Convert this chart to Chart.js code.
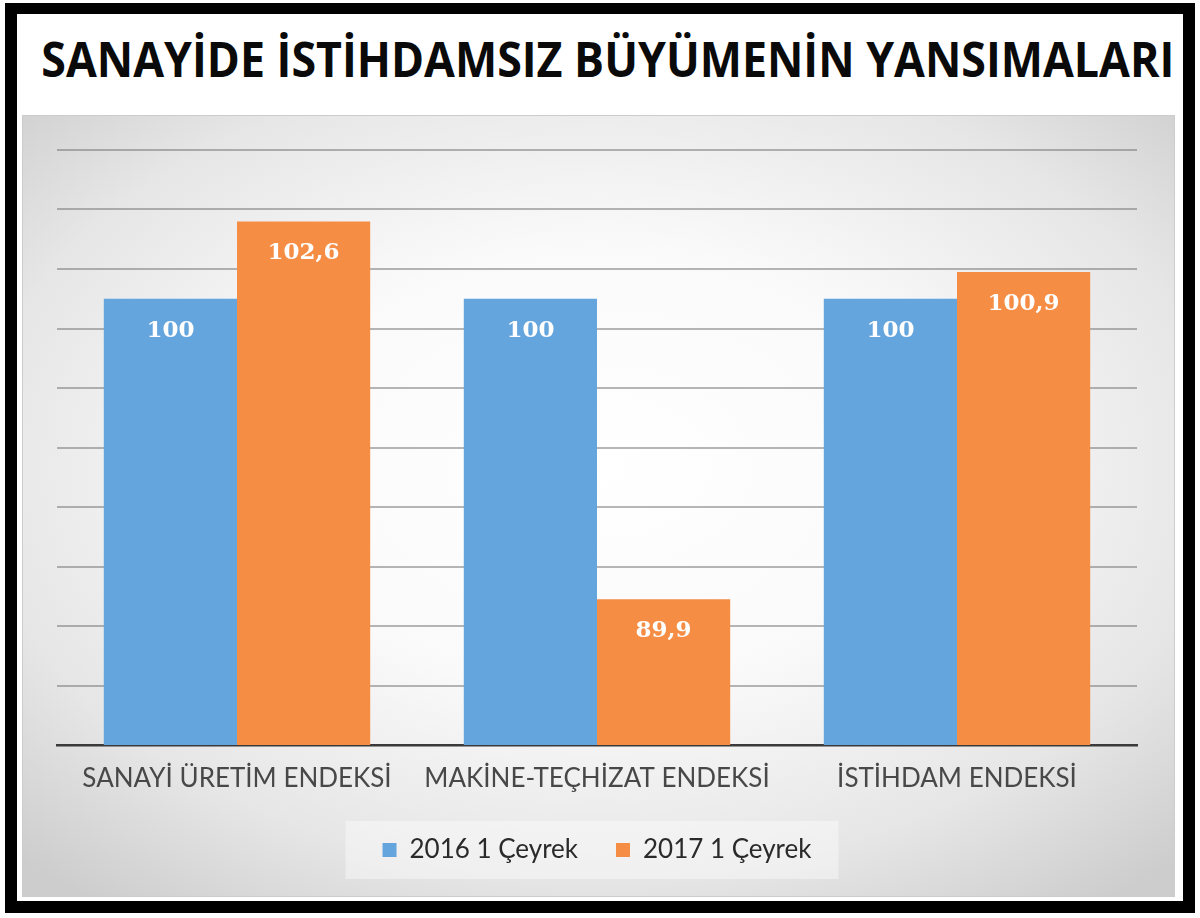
<!DOCTYPE html>
<html><head><meta charset="utf-8">
<script src="https://cdn.jsdelivr.net/npm/chart.js@4.4.1/dist/chart.umd.min.js"></script>
<style>
html,body{margin:0;padding:0;background:#fff;width:1200px;height:918px;overflow:hidden;}
#frame{position:absolute;left:5px;top:3px;width:1190px;height:910px;border:12px solid #000;border-top-width:11px;box-sizing:border-box;background:#fff;}
#title{position:absolute;left:0;top:26px;width:1202px;text-align:center;font-family:'Open Sans',sans-serif;font-weight:700;font-size:48px;color:#0a0a0a;white-space:nowrap;line-height:normal;}
#title span{display:inline-block;transform-origin:50% 50%;}
#plot{position:absolute;left:22px;top:115px;width:1153px;height:782px;
 background:radial-gradient(ellipse 72% 70% at 50% 45%, #ffffff 0%, #fafafa 40%, #e6e6e6 75%, #cdcdcd 100%);
 box-shadow:inset 0 0 0 1px #cccccc;}
#plot canvas{position:absolute;left:0;top:0;}
</style></head>
<body>
<div id="frame"></div>
<div id="title"><span id="titleText">SANAYİDE İSTİHDAMSIZ BÜYÜMENİN YANSIMALARI</span></div>
<div id="plot"><canvas id="c" width="1153" height="782"></canvas></div>
<script>
const categories = ['SANAYİ ÜRETİM ENDEKSİ', 'MAKİNE-TEÇHİZAT ENDEKSİ', 'İSTİHDAM ENDEKSİ'];
const seriesNames = ['2016 1 Çeyrek', '2017 1 Çeyrek'];
const values2016 = [100, 100, 100];
const values2017 = [102.6, 89.9, 100.9];
const yAxisMin = 85;
const yAxisMax = 105;
const yAxisStep = 2;

// fit title width
(function(){
  const s = document.getElementById('titleText');
  const w = s.getBoundingClientRect().width;
  s.style.transform = 'scaleX(' + (1133 / w) + ')';
})();

const fmt = v => String(v).replace('.', ',');

const dataLabels = {
  id: 'dataLabels',
  afterDatasetsDraw(chart) {
    const ctx = chart.ctx;
    ctx.save();
    ctx.font = 'bold 23px "DejaVu Serif", serif';
    ctx.fillStyle = '#ffffff';
    ctx.textAlign = 'center';
    ctx.textBaseline = 'middle';
    chart.data.datasets.forEach((ds, di) => {
      const meta = chart.getDatasetMeta(di);
      meta.data.forEach((bar, i) => {
        ctx.fillText(fmt(ds.data[i]), bar.x, bar.y + 32);
      });
    });
    ctx.restore();
  }
};

const legendBg = {
  id: 'legendBg',
  beforeDraw(chart) {
    const lg = chart.legend;
    if (!lg || !lg.legendHitBoxes || !lg.legendHitBoxes.length) return;
    const hb = lg.legendHitBoxes;
    const first = hb[0], last = hb[hb.length - 1];
    const cy = first.top + first.height / 2;
    const ctx = chart.ctx;
    ctx.save();
    ctx.fillStyle = 'rgba(255,255,255,0.4)';
    const l = first.left - 37, r = last.left + last.width + 27;
    ctx.fillRect(l, cy - 29, r - l, 58);
    ctx.restore();
  }
};

new Chart(document.getElementById('c'), {
  type: 'bar',
  data: {
    labels: categories,
    datasets: [
      { label: seriesNames[0], data: values2016, backgroundColor: '#65A5DE', borderWidth: 0 },
      { label: seriesNames[1], data: values2017, backgroundColor: '#F68D45', borderWidth: 0 }
    ]
  },
  options: {
    responsive: false,
    animation: false,
    devicePixelRatio: 1,
    layout: { padding: { left: 35, right: 38, top: 35, bottom: 24 } },
    datasets: { bar: { categoryPercentage: 0.74, barPercentage: 1.0 } },
    scales: {
      x: {
        grid: { display: false, drawTicks: false },
        border: { display: true, color: '#3a3a3a', width: 2.5 },
        ticks: { color: '#484848', font: { family: 'Lato', size: 26 }, padding: 18, maxRotation: 0 },
        afterFit(scale) { scale.height = 54; }
      },
      y: {
        min: yAxisMin, max: yAxisMax,
        ticks: { display: false, stepSize: yAxisStep },
        grid: { color: 'rgba(110,110,110,0.5)', lineWidth: 2, drawTicks: false },
        border: { display: false }
      }
    },
    plugins: {
      legend: {
        position: 'bottom',
        labels: { boxWidth: 14, boxHeight: 14, padding: 38, color: '#2a2a2a', font: { family: 'Lato', size: 26 } }
      },
      title: { display: false },
      tooltip: { enabled: false }
    }
  },
  plugins: [dataLabels, legendBg]
});
</script>
</body></html>
